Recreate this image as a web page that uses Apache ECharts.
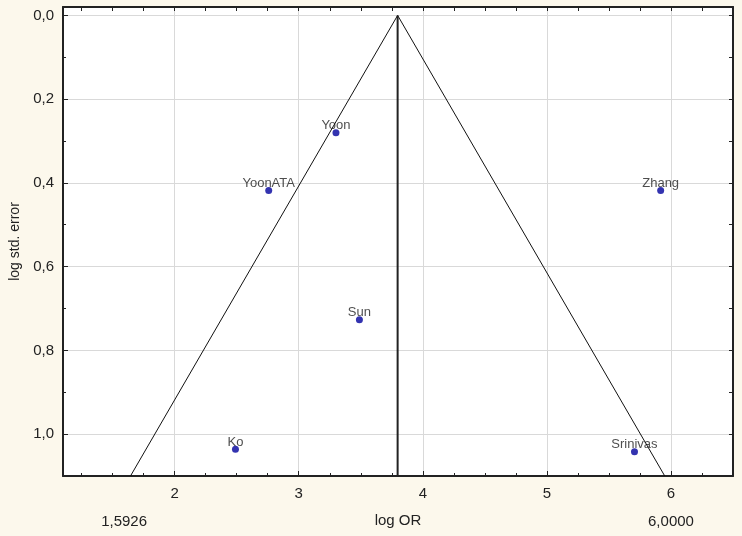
<!DOCTYPE html>
<html>
<head>
<meta charset="utf-8">
<script src="https://cdn.jsdelivr.net/npm/echarts@6/dist/echarts.min.js"></script>
<style>
html,body{margin:0;padding:0;background:#fcf8ec;}
#chart{width:742px;height:536px;}
</style>
</head>
<body>
<div id="chart"></div>
<script>
// Study data
var studies = ['Yoon', 'YoonATA', 'Zhang', 'Sun', 'Ko', 'Srinivas'];
var logOR   = [3.30, 2.758, 5.917, 3.489, 2.49, 5.706];
var logSE   = [0.280, 0.418, 0.418, 0.727, 1.036, 1.042];

// Funnel (pseudo 95% CI) lines and pooled estimate line
var funnelX = [1.644, 3.797, 5.950];
var funnelY = [1.10, 0.0, 1.10];
var pooledX = [3.797, 3.797];
var pooledY = [0.0, 1.10];

// Axis ticks
var xMajor = [2, 3, 4, 5, 6];
var xMinor = [1.25, 1.5, 1.75, 2.25, 2.5, 2.75, 3.25, 3.5, 3.75, 4.25, 4.5, 4.75, 5.25, 5.5, 5.75, 6.25];
var yMajor = [0.0, 0.2, 0.4, 0.6, 0.8, 1.0];
var yMinor = [0.1, 0.3, 0.5, 0.7, 0.9];
var xExtraLabels = [1.5926, 6.0];

var X_MIN = 1.1, X_MAX = 6.5, Y_MIN = -0.02, Y_MAX = 1.1;
var FONT = 'Liberation Sans, Arial, sans-serif';

function comma(v, d) { return v.toFixed(d).replace('.', ','); }

var chart = echarts.init(document.getElementById('chart'));
var option = {
  backgroundColor: '#fcf8ec',
  animation: false,
  grid: { left: 60, right: 9, top: 7, bottom: 60, show: true, backgroundColor: '#ffffff', borderWidth: 0 },
  xAxis: [
    { type: 'value', position: 'bottom', min: X_MIN, max: X_MAX, splitNumber: 5,
      name: 'log OR', nameLocation: 'middle', nameGap: 37,
      nameTextStyle: { fontFamily: FONT, fontSize: 15, color: '#222' },
      axisLine: { show: true, onZero: false, lineStyle: { color: '#222', width: 2 } },
      axisTick: { show: true, inside: true, length: 5, customValues: xMajor, lineStyle: { color: '#222' } },
      axisLabel: { customValues: xMajor, margin: 10, fontFamily: FONT, fontSize: 15, color: '#222',
        formatter: function (v) { return String(v); } },
      splitLine: { show: true, lineStyle: { color: '#d9d9d9', width: 1 } }
    },
    { type: 'value', position: 'bottom', min: X_MIN, max: X_MAX,
      axisLine: { show: false, onZero: false },
      axisTick: { show: true, inside: true, length: 3, customValues: xMinor, lineStyle: { color: '#222' } },
      axisLabel: { show: false }, splitLine: { show: false }
    },
    { type: 'value', position: 'top', min: X_MIN, max: X_MAX,
      axisLine: { show: true, onZero: false, lineStyle: { color: '#222', width: 2 } },
      axisTick: { show: true, inside: true, length: 4, customValues: xMajor.concat(xMinor), lineStyle: { color: '#222' } },
      axisLabel: { show: false }, splitLine: { show: false }
    },
    { type: 'value', position: 'bottom', offset: 28, min: X_MIN, max: X_MAX,
      axisLine: { show: false, onZero: false }, axisTick: { show: false },
      axisLabel: { customValues: xExtraLabels, margin: 10, fontFamily: FONT, fontSize: 15, color: '#222',
        formatter: function (v) { return comma(v, 4); } },
      splitLine: { show: false }
    }
  ],
  yAxis: [
    { type: 'value', position: 'left', inverse: true, min: Y_MIN, max: Y_MAX, splitNumber: 5,
      name: 'log std. error', nameLocation: 'middle', nameGap: 41,
      nameTextStyle: { fontFamily: FONT, fontSize: 14, color: '#222' },
      axisLine: { show: true, onZero: false, lineStyle: { color: '#222', width: 2 } },
      axisTick: { show: true, inside: true, length: 5, customValues: yMajor, lineStyle: { color: '#222' } },
      axisLabel: { customValues: yMajor, margin: 9, fontFamily: FONT, fontSize: 15, color: '#222',
        formatter: function (v) { return comma(v, 1); } },
      splitLine: { show: true, lineStyle: { color: '#d9d9d9', width: 1 } }
    },
    { type: 'value', position: 'left', inverse: true, min: Y_MIN, max: Y_MAX,
      axisLine: { show: false, onZero: false },
      axisTick: { show: true, inside: true, length: 3, customValues: yMinor, lineStyle: { color: '#222' } },
      axisLabel: { show: false }, splitLine: { show: false }
    },
    { type: 'value', position: 'right', inverse: true, min: Y_MIN, max: Y_MAX,
      axisLine: { show: true, onZero: false, lineStyle: { color: '#222', width: 2 } },
      axisTick: { show: true, inside: true, length: 4, customValues: yMajor.concat(yMinor), lineStyle: { color: '#222' } },
      axisLabel: { show: false }, splitLine: { show: false }
    }
  ],
  series: [
    { type: 'line', xAxisIndex: 0, yAxisIndex: 0, symbol: 'none', silent: true,
      data: funnelX.map(function (x, i) { return [x, funnelY[i]]; }),
      lineStyle: { color: '#111', width: 1 } },
    { type: 'line', xAxisIndex: 0, yAxisIndex: 0, symbol: 'none', silent: true,
      data: pooledX.map(function (x, i) { return [x, pooledY[i]]; }),
      lineStyle: { color: '#222', width: 2 } },
    { type: 'scatter', xAxisIndex: 0, yAxisIndex: 0, symbol: 'circle', symbolSize: 7,
      itemStyle: { color: '#00009c' },
      label: { show: true, position: 'top', distance: -3, fontFamily: FONT, fontSize: 13, color: '#222',
        formatter: function (p) { return p.data[2]; } },
      data: studies.map(function (s, i) { return [logOR[i], logSE[i], s]; }) }
  ]
};
chart.setOption(option);
</script>
</body>
</html>
